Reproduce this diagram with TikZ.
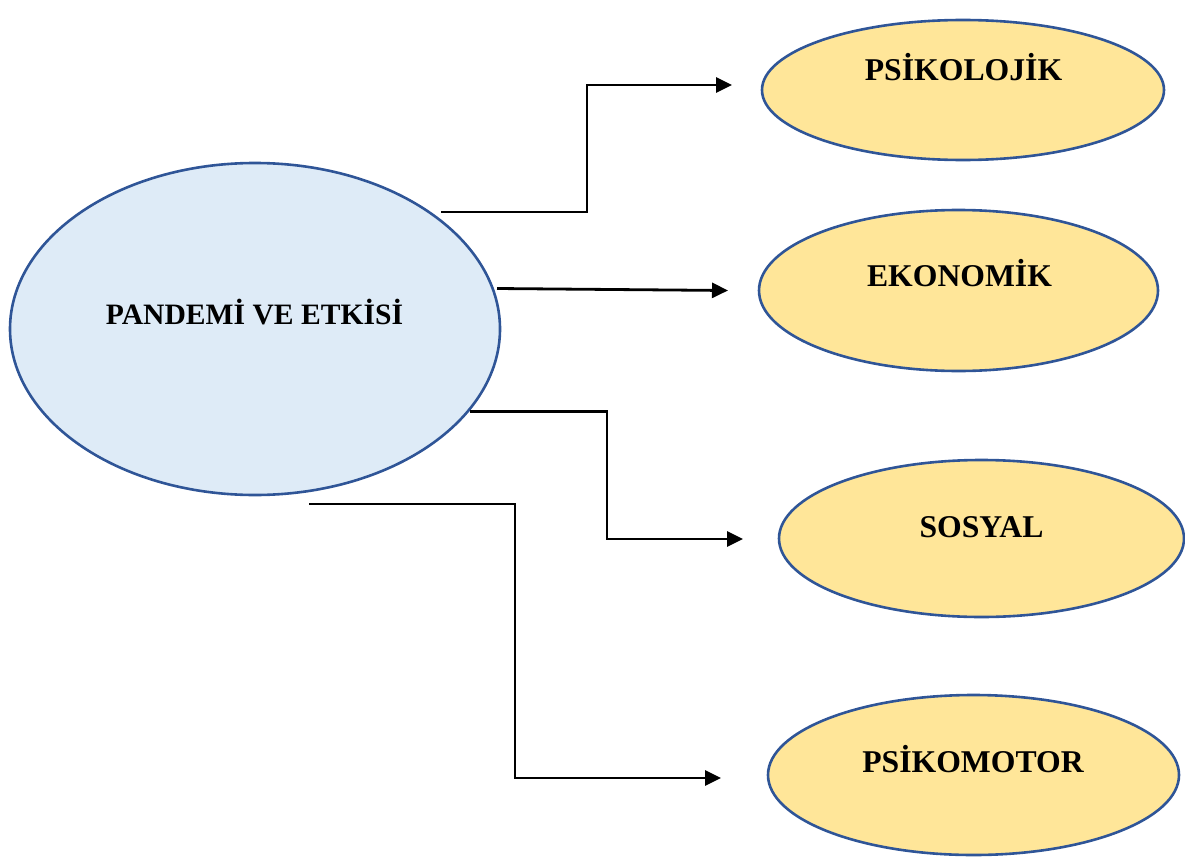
\documentclass[tikz,border=0pt]{standalone}
\usepackage{fontspec}
\setmainfont{Liberation Serif}
\usetikzlibrary{shapes.geometric,arrows.meta}
\definecolor{edgeblue}{HTML}{2F5597}
\definecolor{paleblue}{HTML}{DEEBF7}
\definecolor{paleyellow}{HTML}{FFE699}
\begin{document}
\begin{tikzpicture}[x=1pt,y=-1pt,
  oval/.style={ellipse,draw=edgeblue,line width=2.6pt,inner sep=0pt},
  mainoval/.style={oval,fill=paleblue},
  suboval/.style={oval,fill=paleyellow},
  lbl/.style={font=\bfseries,anchor=base,inner sep=0pt},
  conn/.style={line width=2.8pt,-{Triangle[length=16pt,width=15pt]}}]
\useasboundingbox (0,0) rectangle (1185,859);
\node[mainoval,minimum width=490pt,minimum height=332pt] (main) at (255,329) {};
\node[suboval,minimum width=402pt,minimum height=140pt] (psi) at (963,90) {};
\node[suboval,minimum width=399pt,minimum height=161pt] (eko) at (958.5,290.5) {};
\node[suboval,minimum width=405pt,minimum height=157pt] (sos) at (981.5,538.5) {};
\node[suboval,minimum width=411pt,minimum height=160pt] (psm) at (973.5,775) {};
\node[lbl,font=\fontsize{29.6}{30}\bfseries] (tmain) at (254.5,324) {PANDEMİ VE ETKİSİ};
\node[lbl,font=\fontsize{31.7}{32}\bfseries] (tpsi) at (963.5,80) {PSİKOLOJİK};
\node[lbl,font=\fontsize{31.7}{32}\bfseries] (teko) at (959.5,286) {EKONOMİK};
\node[lbl,font=\fontsize{31.7}{32}\bfseries] (tsos) at (981.5,537) {SOSYAL};
\node[lbl,font=\fontsize{31.7}{32}\bfseries] (tpsm) at (973,772) {PSİKOMOTOR};
\coordinate (s1) at (441,212);
\coordinate (e1) at (732,85);
\coordinate (s2) at (497,288.5);
\coordinate (e2) at (728,290.5);
\coordinate (s3) at (470,411.5);
\coordinate (e3) at (743,539);
\coordinate (s4) at (309,504);
\coordinate (e4) at (721,778);
\draw[conn] (s1) -- (587,212) |- (e1);
\draw[conn] (s2) -- (e2);
\draw[conn] (s3) -- (607,411.5) |- (e3);
\draw[conn] (s4) -- (515,504) |- (e4);
\end{tikzpicture}
\end{document}
